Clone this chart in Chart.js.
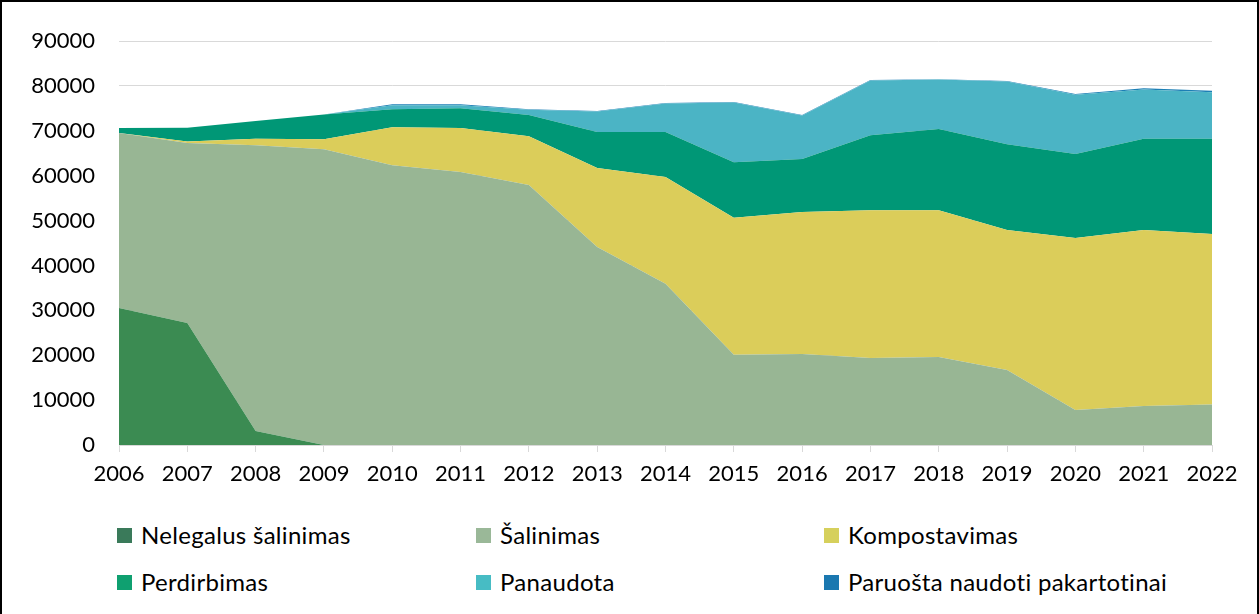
<!DOCTYPE html>
<html>
<head>
<meta charset="utf-8">
<script src="https://cdn.jsdelivr.net/npm/chart.js@4"></script>
<style>
  html, body { margin: 0; padding: 0; background: #fff; }
  #frame {
    position: relative; width: 1259px; height: 614px; box-sizing: border-box;
    border: 2px solid #000; border-bottom: none; overflow: hidden;
  }
  #chartBox { position: absolute; left: -2px; top: -2px; width: 1259px; height: 520px; }
  .leg {
    position: absolute; font-family: Lato, "Liberation Sans", sans-serif; font-size: 24px;
    letter-spacing: 0.3px; color: #000; white-space: nowrap; line-height: 28px; height: 28px;
  }
  .leg span.box {
    position: absolute; left: 0; top: 7px; width: 15px; height: 15px;
  }
</style>
</head>
<body>
<div id="frame">
  <div id="chartBox"><canvas id="wasteChart" width="1259" height="520"></canvas></div>
  <div id="legend"></div>
</div>
<script>
const years = ['2006', '2007', '2008', '2009', '2010', '2011', '2012', '2013', '2014',
  '2015', '2016', '2017', '2018', '2019', '2020', '2021', '2022'];

const nelegalus = [30500, 27200, 3100, 0, 0, 0, 0, 0, 0, 0, 0, 0, 0, 0, 0, 0, 0];
const salinimas = [39000, 40100, 63700, 65900, 62300, 60800, 57900, 44100, 35900,
  20100, 20300, 19400, 19600, 16700, 7800, 8700, 9000];
const kompostavimas = [0, 300, 1400, 2200, 8500, 9800, 10900, 17600, 23800,
  30500, 31600, 32900, 32700, 31200, 38300, 39200, 38000];
const perdirbimas = [1100, 3100, 4000, 5500, 4000, 4400, 4700, 8000, 10000,
  12400, 11800, 16700, 18100, 19100, 18700, 20300, 21200];
const panaudota = [0, 0, 0, 0, 900, 700, 1200, 4600, 6400,
  13300, 9700, 12200, 11000, 14000, 13200, 11000, 10400];
const paruosta = [0, 0, 0, 0, 200, 200, 100, 100, 100, 100, 100, 100, 100, 100, 200, 300, 300];

const yTicks = [0, 10000, 20000, 30000, 40000, 50000, 60000, 70000, 80000, 90000];

const series = [
  { label: 'Nelegalus šalinimas', data: nelegalus, color: '#3b8b52', box: '#3a7a5a' },
  { label: 'Šalinimas', data: salinimas, color: '#98b694', box: '#9ab898' },
  { label: 'Kompostavimas', data: kompostavimas, color: '#dbcd5a', box: '#d6d05c' },
  { label: 'Perdirbimas', data: perdirbimas, color: '#009776', box: '#0fa070' },
  { label: 'Panaudota', data: panaudota, color: '#4bb4c5', box: '#47bcc4' },
  { label: 'Paruošta naudoti pakartotinai', data: paruosta, color: '#1d7fb5', box: '#1a78b0' }
];

const ctx = document.getElementById('wasteChart').getContext('2d');
const font = { family: 'Lato, "Liberation Sans", sans-serif', size: 22 };

new Chart(ctx, {
  type: 'line',
  data: {
    labels: years,
    datasets: series.map((s, i) => ({
      label: s.label,
      data: s.data,
      backgroundColor: s.color,
      borderColor: s.color,
      borderWidth: 0,
      pointRadius: 0,
      tension: 0,
      fill: i === 0 ? 'origin' : '-1'
    }))
  },
  options: {
    responsive: false,
    animation: false,
    layout: { padding: { top: 41, right: 47, left: 0, bottom: 0 } },
    plugins: { legend: { display: false }, tooltip: { enabled: false } },
    scales: {
      x: {
        offset: false,
        grid: { drawOnChartArea: false, drawTicks: true, tickLength: 7, color: '#d9d9d9' },
        border: { color: '#d9d9d9' },
        ticks: { color: '#000', font, padding: 9, maxRotation: 0, autoSkip: false },
        afterFit: scale => { scale.height = 520 - 445; }
      },
      y: {
        stacked: true,
        min: 0,
        max: 90000,
        afterBuildTicks: scale => { scale.ticks = yTicks.map(v => ({ value: v })); },
        grid: { color: '#d9d9d9', drawTicks: false },
        border: { display: false },
        ticks: { color: '#000', font, padding: 24, callback: v => String(v) },
        afterFit: scale => { scale.width = 119; }
      }
    }
  }
});

const legendPos = [
  [115, 519], [474, 519], [822, 519],
  [115, 566], [474, 566], [822, 566]
];
const legendEl = document.getElementById('legend');
series.forEach((s, i) => {
  const d = document.createElement('div');
  d.className = 'leg';
  d.style.left = legendPos[i][0] + 'px';
  d.style.top = legendPos[i][1] + 'px';
  d.style.paddingLeft = '24px';
  d.innerHTML = `<span class="box" style="background:${s.box}"></span>${s.label}`;
  legendEl.appendChild(d);
});
</script>
</body>
</html>
